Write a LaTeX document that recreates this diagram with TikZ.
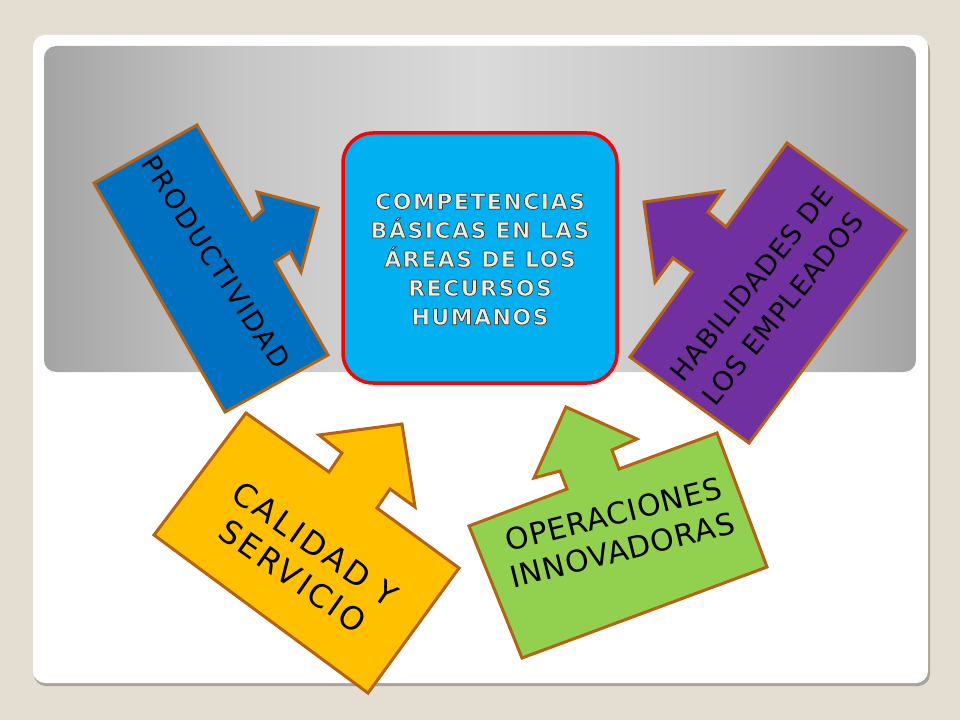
\documentclass[tikz,border=0pt]{standalone}
\usepackage{fontspec}
\setmainfont{DejaVu Sans}
\definecolor{bgbeige}{RGB}{228,221,210}
\definecolor{shadowc}{RGB}{168,163,152}
\definecolor{ga}{RGB}{164,164,164}
\definecolor{gb}{RGB}{198,198,198}
\definecolor{gc}{RGB}{218,218,218}
\definecolor{brownb}{RGB}{182,98,20}
\definecolor{bluef}{RGB}{0,112,192}
\definecolor{purplef}{RGB}{112,48,160}
\definecolor{yellowf}{RGB}{255,192,0}
\definecolor{greenf}{RGB}{146,208,80}
\definecolor{cyanf}{RGB}{0,176,240}
\definecolor{redb}{RGB}{255,0,0}
\definecolor{cream}{RGB}{238,236,225}
\pgfdeclarehorizontalshading{graybg}{100bp}{color(0bp)=(ga); color(25bp)=(ga); color(36bp)=(gb); color(50bp)=(gc); color(64bp)=(gb); color(75bp)=(ga); color(100bp)=(ga)}
\newcommand{\outlinedtext}[1]{\special{pdf:literal direct 2 Tr 0.7 w 0.22 0.22 0.18 RG}#1\special{pdf:literal direct 0 Tr}}
\begin{document}
\begin{tikzpicture}[x=1bp,y=-1bp,
  arrowbox/.style={draw=brownb, line width=3bp, line join=miter},
  lbl/.style={align=center, inner sep=0pt, text=black},
  ctext/.style={font=\bfseries\fontsize{22}{29}\selectfont\addfontfeature{LetterSpace=7}, align=center, inner sep=0pt}]
\useasboundingbox (0,0) rectangle (960,720);
\fill[bgbeige] (0,0) rectangle (960,720);
\fill[shadowc, rounded corners=12bp] (34,39) rectangle (930,686);
\fill[white, rounded corners=12bp] (33,35) rectangle (928,683);
\shade[shading=graybg, rounded corners=12bp] (44,46) rectangle (916,372);
% yellow
\draw[arrowbox, fill=yellowf] (246,413) -- (329,472) -- (342,453) -- (319,435) -- (402,424) -- (415,507) -- (390,489) -- (377,508) -- (459,568) -- (368,693) -- (154,535) -- cycle;
% blue
\draw[arrowbox, fill=bluef] (197,125) -- (252,220) -- (263,210) -- (257,192) -- (318,208) -- (301,272) -- (290,252) -- (275,262) -- (328,355) -- (225,412) -- (94,183) -- cycle;
% green
\draw[arrowbox, fill=greenf] (469,526) -- (567,489) -- (560,471) -- (534,478) -- (566,407) -- (637,439) -- (612,450) -- (619,469) -- (717,433) -- (767,567) -- (522,658) -- cycle;
% purple
\draw[arrowbox, fill=purplef] (787,143) -- (906,230) -- (749,443) -- (630,357) -- (692,272) -- (673,258) -- (655,282) -- (644,202) -- (723,191) -- (708,212) -- (726,227) -- cycle;
% labels
\node[lbl, rotate=-57, font=\fontsize{27}{32}\selectfont\addfontfeature{LetterSpace=7}] (prod) at (216,262) {PRODUCTIVIDAD};
\node[lbl, rotate=51, font=\fontsize{27}{40}\selectfont\addfontfeature{LetterSpace=4}] (hab) at (767,296) {HABILIDADES DE\\LOS EMPLEADOS};
\node[lbl, rotate=-35, font=\fontsize{32}{39}\selectfont\addfontfeature{LetterSpace=10}] (cal) at (304,560) {CALIDAD Y\\SERVICIO};
\node[lbl, rotate=14, font=\fontsize{30}{37}\selectfont\addfontfeature{LetterSpace=3}] (ope) at (618,532) {OPERACIONES\\INNOVADORAS};
% central box
\node[draw=redb, fill=cyanf, line width=3.5bp, rounded corners=30bp, minimum width=274bp, minimum height=250bp] (center) at (480,258) {};
\node[ctext, text=cream] (ctxt) at (480,259) {\outlinedtext{COMPETENCIAS}\\\outlinedtext{BÁSICAS EN LAS}\\\outlinedtext{ÁREAS DE LOS}\\\outlinedtext{RECURSOS}\\\outlinedtext{HUMANOS}};
\end{tikzpicture}
\end{document}
